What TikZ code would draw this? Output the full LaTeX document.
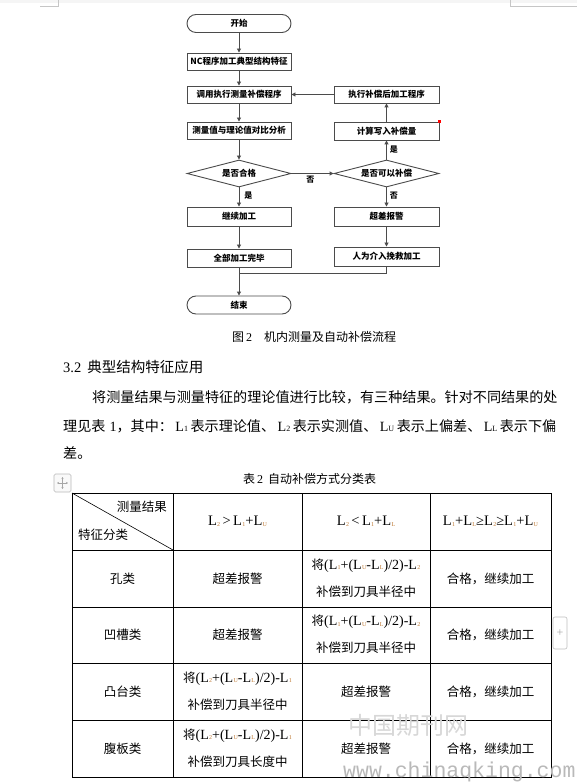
\documentclass[tikz,border=0pt]{standalone}
\usepackage{fontspec}
\setmainfont{Noto Sans CJK SC}
\newfontfamily\tm{Liberation Serif}
\newfontfamily\mono{Liberation Mono}
\usetikzlibrary{shapes.geometric,arrows.meta}
\definecolor{subc}{RGB}{190,120,50}
\definecolor{fline}{RGB}{75,75,75}
\definecolor{wm}{RGB}{215,215,215}
\newcommand\Lt[1]{{\tm L\kern0.3pt\raisebox{-0.6pt}{\fontsize{6}{6}\selectfont\color{subc}#1}}}
\newcommand\Lp[1]{\hspace{2.5pt}{\tm L\raisebox{-0.6pt}{\fontsize{8}{8}\selectfont #1}}\hspace{2.5pt}}
\begin{document}
\begin{tikzpicture}[x=1pt,y=-1pt,
  proc/.style={draw=fline, line width=0.9pt, fill=white, minimum width=104pt, minimum height=18pt, inner sep=0pt, font=\bfseries\fontsize{8.5}{9}\selectfont},
  term/.style={proc, rounded corners=9pt},
  dec/.style={proc, diamond, aspect=3.85, minimum height=27pt},
  arr/.style={draw=fline, line width=0.9pt, -{Triangle[length=4pt,width=4pt]}},
  conn/.style={draw=fline, line width=0.9pt},
  lbl/.style={font=\bfseries\fontsize{8}{8}\selectfont, inner sep=0pt},
  body/.style={font=\fontsize{14.1}{15}\selectfont, inner sep=0pt, anchor=west},
  tc/.style={font=\fontsize{12.5}{13}\selectfont, inner sep=0pt},
  fm/.style={font=\tm\fontsize{14.5}{14.5}\selectfont, inner sep=0pt},
  grid/.style={draw=black, line width=0.9pt}
]
\useasboundingbox (0,0) rectangle (577,783);
\fill[white] (0,0) rectangle (577,783);
% page edge marks
\fill[gray!8] (0,0) rectangle (577,3);
\draw[gray!45, line width=0.6pt] (40,6) -- (58,6) -- (58,0);
\draw[gray!45, line width=0.6pt] (577,6) -- (510,6) -- (510,0);

% ---------------- flowchart ----------------
\node[term] (start) at (239,23.5) {开始};
\node[proc, minimum height=17pt] (nc) at (239,61.5) {NC程序加工典型结构特征};
\node[proc, minimum height=17pt] (call) at (239,94.5) {调用执行测量补偿程序};
\node[proc, minimum height=17pt] (cmp) at (239,130.5) {测量值与理论值对比分析};
\node[dec] (dq) at (239,173.5) {是否合格};
\node[proc, minimum height=19pt] (cont) at (239,216.5) {继续加工};
\node[proc] (done) at (239,258) {全部加工完毕};
\node[term] (end) at (239,305) {结束};

\node[proc, minimum width=105pt, minimum height=17pt] (exe) at (386.5,94.5) {执行补偿后加工程序};
\node[proc, minimum width=105pt] (calc) at (386.5,131) {计算写入补偿量};
\node[dec, minimum width=105pt] (dc) at (386.5,173.5) {是否可以补偿};
\node[proc, minimum width=105pt, minimum height=19pt] (alarm) at (386.5,216.5) {超差报警};
\node[proc, minimum width=105pt, minimum height=19pt] (man) at (386.5,256.5) {人为介入挽救加工};
\fill[red] (calc.north east) ++(-1.2,-1.2) rectangle ++(2.4,2.4);

\coordinate (join) at (239,273);
\draw[arr] (start) -- (nc);
\draw[arr] (nc) -- (call);
\draw[arr] (call) -- (cmp);
\draw[arr] (cmp) -- (dq);
\draw[arr] (dq) -- node[lbl, right=5pt, pos=0.45] (ys1) {是} (cont);
\draw[arr] (cont) -- (done);
\draw[arr] (done) -- (end);
\draw[arr] (dq.east) -- node[lbl, below=2pt, pos=0.45] (no1) {否} (dc.west);
\draw[arr] (dc) -- node[lbl, right=3pt] (ys2) {是} (calc);
\draw[arr] (calc) -- (exe);
\draw[arr] (exe.west) -- (call.east);
\draw[arr] (dc) -- node[lbl, right=3pt, pos=0.45] (no2) {否} (alarm);
\draw[arr] (alarm) -- (man);
\draw[conn] (man.south) |- (join);

% ---------------- caption & text ----------------
\node[font=\fontsize{12}{12}\selectfont, inner sep=0pt, anchor=west] (cap) at (232,337) {图\,{\tm 2}\hspace{12pt}机内测量及自动补偿流程};
\node[body, font=\fontsize{14.5}{15}\selectfont] (sec) at (63,367) {{\tm 3.2}\hspace{6pt}典型结构特征应用};
\node[body] (p1) at (92,397) {将测量结果与测量特征的理论值进行比较，有三种结果。针对不同结果的处};
\node[body] (p2) at (63,426) {理见表\hspace{4pt}{\tm 1}，其中：\Lp{1}表示理论值、\Lp{2}表示实测值、\Lp{U}表示上偏差、\Lp{L}表示下偏};
\node[body] (p3) at (63,453) {差。};

% ---------------- table ----------------
\node[font=\fontsize{12}{12}\selectfont, inner sep=0pt, anchor=west] (tt) at (243,479) {表\,{\tm 2}\hspace{5pt}自动补偿方式分类表};
\draw[gray!55, line width=0.6pt, rounded corners=1.5pt, fill=gray!5] (54,474) rectangle (71,492);
\draw[gray!70, line width=0.5pt, {Stealth[length=2pt,width=2.2pt]}-{Stealth[length=2pt,width=2.2pt]}] (57,483) -- (68,483);
\draw[gray!70, line width=0.5pt, {Stealth[length=2pt,width=2.2pt]}-{Stealth[length=2pt,width=2.2pt]}] (62.5,477) -- (62.5,489);

\draw[grid] (72,493) rectangle (551,777);
\foreach \xx in {173,302,430} \draw[grid] (\xx,493) -- (\xx,777);
\foreach \yy in {550,607,663,720} \draw[grid] (72,\yy) -- (551,\yy);
\draw[black, line width=0.6pt] (72,493) -- (173,550);

\node[tc, anchor=east] (h1) at (167,507) {测量结果};
\node[tc, anchor=west] (h2) at (78,535) {特征分类};
\node[fm] (h3) at (237.5,521.5) {\Lt{2}\,>\,\Lt{1}+\Lt{U}};
\node[fm] (h4) at (366,521.5) {\Lt{2}\,<\,\Lt{1}+\Lt{L}};
\node[fm] (h5) at (490.5,521.5) {\Lt{1}+\Lt{L}≥\Lt{2}≥\Lt{1}+\Lt{U}};

% row 1
\node[tc] (r1a) at (122.5,578.5) {孔类};
\node[tc] (r1b) at (237.5,578.5) {超差报警};
\node[tc] (r1c) at (366,565.5) {将{\tm\fontsize{14}{14}\selectfont(\Lt{1}+(\Lt{U}-\Lt{L})/2)-\Lt{2}}};
\node[tc] (r1d) at (366,591.5) {补偿到刀具半径中};
\node[tc] (r1e) at (490.5,578.5) {合格，继续加工};
% row 2
\node[tc] (r2a) at (122.5,635) {凹槽类};
\node[tc] (r2b) at (237.5,635) {超差报警};
\node[tc] (r2c) at (366,622) {将{\tm\fontsize{14}{14}\selectfont(\Lt{1}+(\Lt{U}-\Lt{L})/2)-\Lt{2}}};
\node[tc] (r2d) at (366,648) {补偿到刀具半径中};
\node[tc] (r2e) at (490.5,635) {合格，继续加工};
% row 3
\node[tc] (r3a) at (122.5,691.5) {凸台类};
\node[tc] (r3b) at (237.5,678.5) {将{\tm\fontsize{14}{14}\selectfont(\Lt{2}+(\Lt{U}-\Lt{L})/2)-\Lt{1}}};
\node[tc] (r3c) at (237.5,704.5) {补偿到刀具半径中};
\node[tc] (r3d) at (366,691.5) {超差报警};
\node[tc] (r3e) at (490.5,691.5) {合格，继续加工};
% row 4
\node[tc] (r4a) at (122.5,748.5) {腹板类};
\node[tc] (r4b) at (237.5,735.5) {将{\tm\fontsize{14}{14}\selectfont(\Lt{2}+(\Lt{U}-\Lt{L})/2)-\Lt{1}}};
\node[tc] (r4c) at (237.5,761.5) {补偿到刀具长度中};
\node[tc] (r4d) at (366,748.5) {超差报警};
\node[tc] (r4e) at (490.5,748.5) {合格，继续加工};

% side button
\draw[gray!50, line width=0.6pt, rounded corners=2pt, fill=white] (553,617) rectangle (567,649);
\node[text=gray!70, font=\tm\fontsize{12}{12}\selectfont, inner sep=0pt] (plus) at (560,633) {+};

% watermark
\node[text=wm, font=\fontsize{24}{24}\selectfont, inner sep=0pt, anchor=west] (wm1) at (348,725) {中国期刊网};
\node[text=gray!55, font=\mono\fontsize{21.5}{22}\selectfont, inner sep=0pt, anchor=west] (wm2) at (343,772) {www.chinaqking.com};
\end{tikzpicture}
\end{document}
